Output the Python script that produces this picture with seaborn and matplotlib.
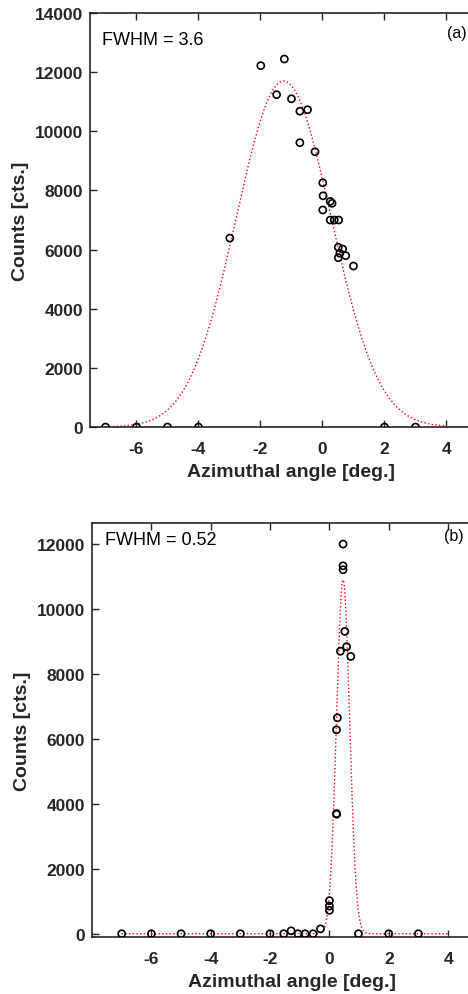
import numpy as np
import pandas as pd
import matplotlib
matplotlib.use("Agg")
import matplotlib.pyplot as plt
import seaborn as sns

# measured points, panel (a)
angle_a = [-7, -6, -5, -4, -2.99, -1.99, -1.23, -1.48, -1.0, -0.73, -0.48, -0.73,
           -0.24, 0.01, 0.02, 0.25, 0.31, 0.01, 0.25, 0.38, 0.52, 0.51, 0.65,
           0.56, 0.51, 0.75, 1.0, 2, 3]
counts_a = [0, 0, 0, 0, 6390, 12220, 12445, 11240, 11100, 10680, 10730, 9615,
            9310, 8260, 7820, 7630, 7565, 7340, 7000, 7000, 7000, 6080, 6020,
            5875, 5725, 5795, 5445, 0, 0]

# measured points, panel (b)
angle_b = [-7, -6, -5, -4, -3, -2, -1.54, -1.29, -1.06, -0.82, -0.55, -0.3,
           0, 0, 0, 0.24, 0.24, 0.24, 0.27, 0.37, 0.46, 0.46, 0.46, 0.52,
           0.58, 0.72, 0.98, 2, 3]
counts_b = [0, 0, 0, 0, 0, 0, 0, 90, 0, 0, 0, 150,
            1020, 850, 720, 3700, 3680, 6280, 6650, 8700, 12000, 11330, 11210, 9310,
            8840, 8540, 0, 0, 0]

# gaussian fit parameters (amplitude, centre, fwhm)
fit_a = (11700, -1.25, 3.6)
fit_b = (10900, 0.46, 0.52)
fit_range = (-7, 4)

panel_labels = ["(a)", "(b)"]
fwhm_labels = ["FWHM = 3.6", "FWHM = 0.52"]


def gauss_curve(amp, mu, fwhm):
    x = np.linspace(fit_range[0], fit_range[1], 600)
    sig = fwhm / (2 * np.sqrt(2 * np.log(2)))
    return pd.DataFrame({"x": x, "y": amp * np.exp(-(x - mu) ** 2 / (2 * sig ** 2))})


sns.set_style("ticks")
plt.rcParams["font.family"] = ["Liberation Sans", "DejaVu Sans"]
plt.rcParams["axes.unicode_minus"] = False
dark = "#262626"

fig = plt.figure(figsize=(4.68, 9.95), dpi=100)
ax1 = fig.add_axes([0.1923, 0.5698, 0.861, 0.4161])
ax2 = fig.add_axes([0.1966, 0.0573, 0.856, 0.4161])

panels = [
    (ax1, angle_a, counts_a, fit_a, (-7.5, 5.5), (0, 14000), np.arange(0, 14001, 2000),
     (0.03, 0.937), (0.886, 0.954)),
    (ax2, angle_b, counts_b, fit_b, (-8, 5.5), (-100, 12650), np.arange(0, 12001, 2000),
     (0.033, 0.959), (0.878, 0.969)),
]

for i, (ax, xs, ys, fit, xl, yl, yt, fpos, lpos) in enumerate(panels):
    curve = gauss_curve(*fit)
    sns.lineplot(data=curve, x="x", y="y", ax=ax, color="red", linestyle=":",
                 linewidth=1.0, sort=False, estimator=None)
    sns.scatterplot(x=xs, y=ys, ax=ax, marker="o", facecolor="none",
                    edgecolor="black", linewidth=1.2, s=26, zorder=3)
    ax.set_xlim(*xl)
    ax.set_ylim(*yl)
    ax.set_xticks([-6, -4, -2, 0, 2, 4])
    ax.set_yticks(yt)
    ax.tick_params(direction="in", length=5, width=1, colors=dark,
                   top=True, right=True, labelsize=12.5)
    ax.tick_params(axis="x", pad=10)
    ax.tick_params(axis="y", pad=5)
    for lab in ax.get_xticklabels() + ax.get_yticklabels():
        lab.set_fontweight("bold")
    for sp in ax.spines.values():
        sp.set_color(dark)
        sp.set_linewidth(1.2)
    ax.set_xlabel("Azimuthal angle [deg.]", fontsize=14, fontweight="bold", color=dark, labelpad=5)
    ax.set_ylabel("Counts [cts.]", fontsize=14, fontweight="bold", color=dark, labelpad=4)
    ax.text(fpos[0], fpos[1], fwhm_labels[i], transform=ax.transAxes, fontsize=13,
            ha="left", va="center", color="black")
    ax.text(lpos[0], lpos[1], panel_labels[i], transform=ax.transAxes, fontsize=11.5,
            ha="left", va="center", color="black")

fig.savefig("out.png", dpi=100)
